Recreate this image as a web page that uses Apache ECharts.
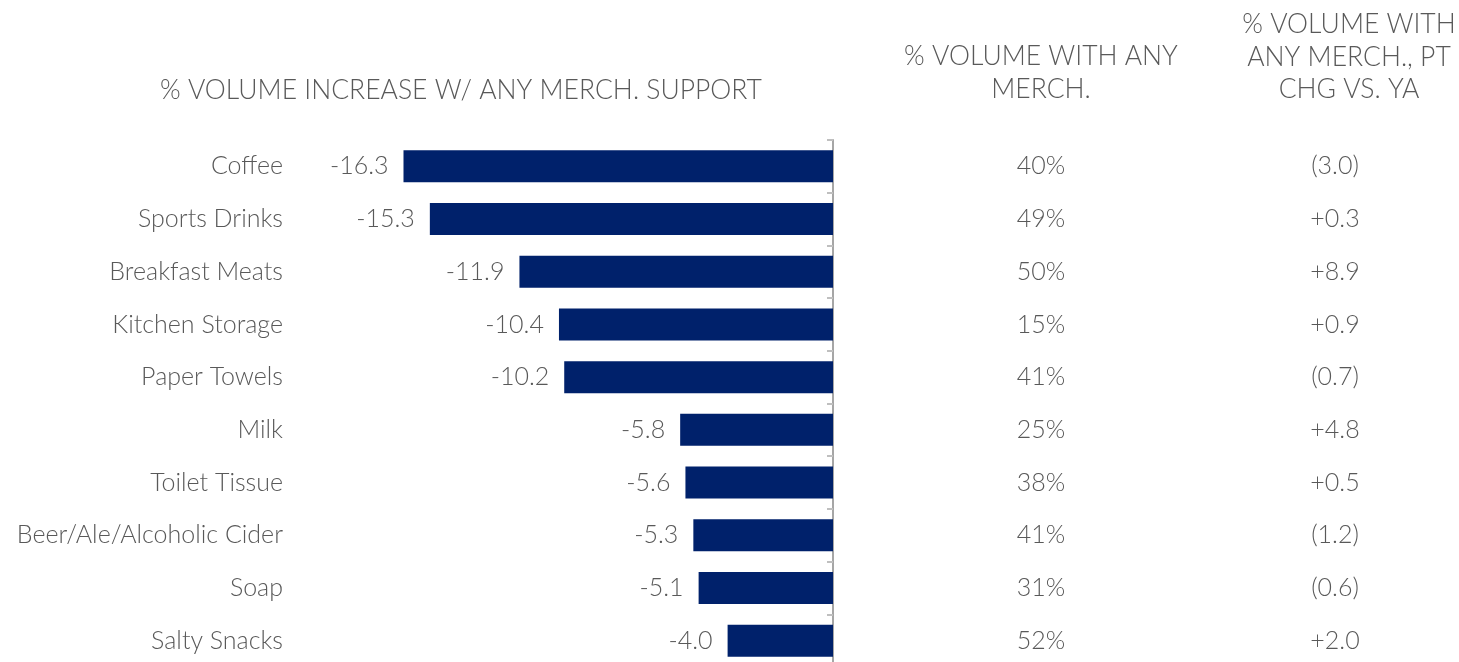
<!DOCTYPE html>
<html>
<head>
<meta charset="utf-8">
<script src="https://cdn.jsdelivr.net/npm/echarts@6/dist/echarts.min.js"></script>
<style>
  html, body { margin: 0; padding: 0; background: #fff; }
  #chart { width: 1459px; height: 662px; }
</style>
</head>
<body>
<div id="chart"></div>
<script>
  // data
  const categories = ['Coffee', 'Sports Drinks', 'Breakfast Meats', 'Kitchen Storage', 'Paper Towels',
    'Milk', 'Toilet Tissue', 'Beer/Ale/Alcoholic Cider', 'Soap', 'Salty Snacks'];
  const volumeIncrease = [-16.3, -15.3, -11.9, -10.4, -10.2, -5.8, -5.6, -5.3, -5.1, -4.0];
  const volumeWithMerch = [40, 49, 50, 15, 41, 25, 38, 41, 31, 52];
  const ptChgVsYa = [-3.0, 0.3, 8.9, 0.9, -0.7, 4.8, 0.5, -1.2, -0.6, 2.0];

  const FONT = 'Lato, "Open Sans", sans-serif';
  const GREY = '#595959';
  const SIZE = 25;

  const chart = echarts.init(document.getElementById('chart'));

  const headerText = (x, y, text) => ({
    type: 'text',
    x: x,
    y: y,
    style: {
      text: text,
      fill: GREY,
      font: '300 26.5px ' + FONT,
      textAlign: 'center',
      textVerticalAlign: 'middle',
      lineHeight: 32.5,
    },
  });

  // plain category axis used just to show a column of text
  const columnAxis = (data, margin, formatter) => ({
    type: 'category',
    data: data,
    inverse: true,
    position: 'right',
    axisLine: { show: false },
    axisTick: { show: false },
    axisLabel: {
      margin: margin,
      align: 'center',
      color: GREY,
      fontSize: SIZE,
      fontWeight: 300,
      fontFamily: FONT,
      formatter: formatter,
    },
  });

  chart.setOption({
    animation: false,
    grid: {
      left: 306,
      width: 527,
      top: 140,
      height: 527,
      // v6 would otherwise shrink the grid to keep labels inside the canvas
      outerBoundsMode: 'none',
      containLabel: false,
    },
    graphic: [
      headerText(461, 90, '% VOLUME INCREASE W/ ANY MERCH. SUPPORT'),
      headerText(1041, 73, '% VOLUME WITH ANY\nMERCH.'),
      headerText(1349, 57, '% VOLUME WITH\nANY MERCH., PT\nCHG VS. YA'),
    ],
    xAxis: {
      type: 'value',
      min: -20,
      max: 0,
      show: false,
    },
    yAxis: [
      {
        type: 'category',
        data: categories,
        inverse: true,
        position: 'left',
        axisLine: { show: false },
        axisTick: { show: false },
        axisLabel: {
          margin: 23,
          color: GREY,
          fontSize: SIZE,
          fontWeight: 300,
          fontFamily: FONT,
        },
      },
      {
        type: 'category',
        data: categories,
        inverse: true,
        position: 'right',
        axisLine: {
          show: true,
          lineStyle: { color: '#a6a6a6', width: 2 },
        },
        axisTick: {
          show: true,
          inside: true,
          length: 6,
          lineStyle: { color: '#bfbfbf', width: 2 },
        },
        axisLabel: { show: false },
      },
      columnAxis(volumeWithMerch, 208, (v) => v + '%'),
      columnAxis(ptChgVsYa, 502, (v) => {
        const n = Number(v);
        return n < 0 ? '(' + Math.abs(n).toFixed(1) + ')' : '+' + n.toFixed(1);
      }),
    ],
    series: [
      {
        type: 'bar',
        yAxisIndex: 0,
        data: volumeIncrease,
        barWidth: 32,
        itemStyle: { color: '#00216b' },
        label: {
          show: true,
          position: 'left',
          distance: 15,
          color: GREY,
          fontSize: SIZE,
          fontWeight: 300,
          fontFamily: FONT,
          formatter: (p) => p.value.toFixed(1),
        },
      },
    ],
  });
</script>
</body>
</html>
